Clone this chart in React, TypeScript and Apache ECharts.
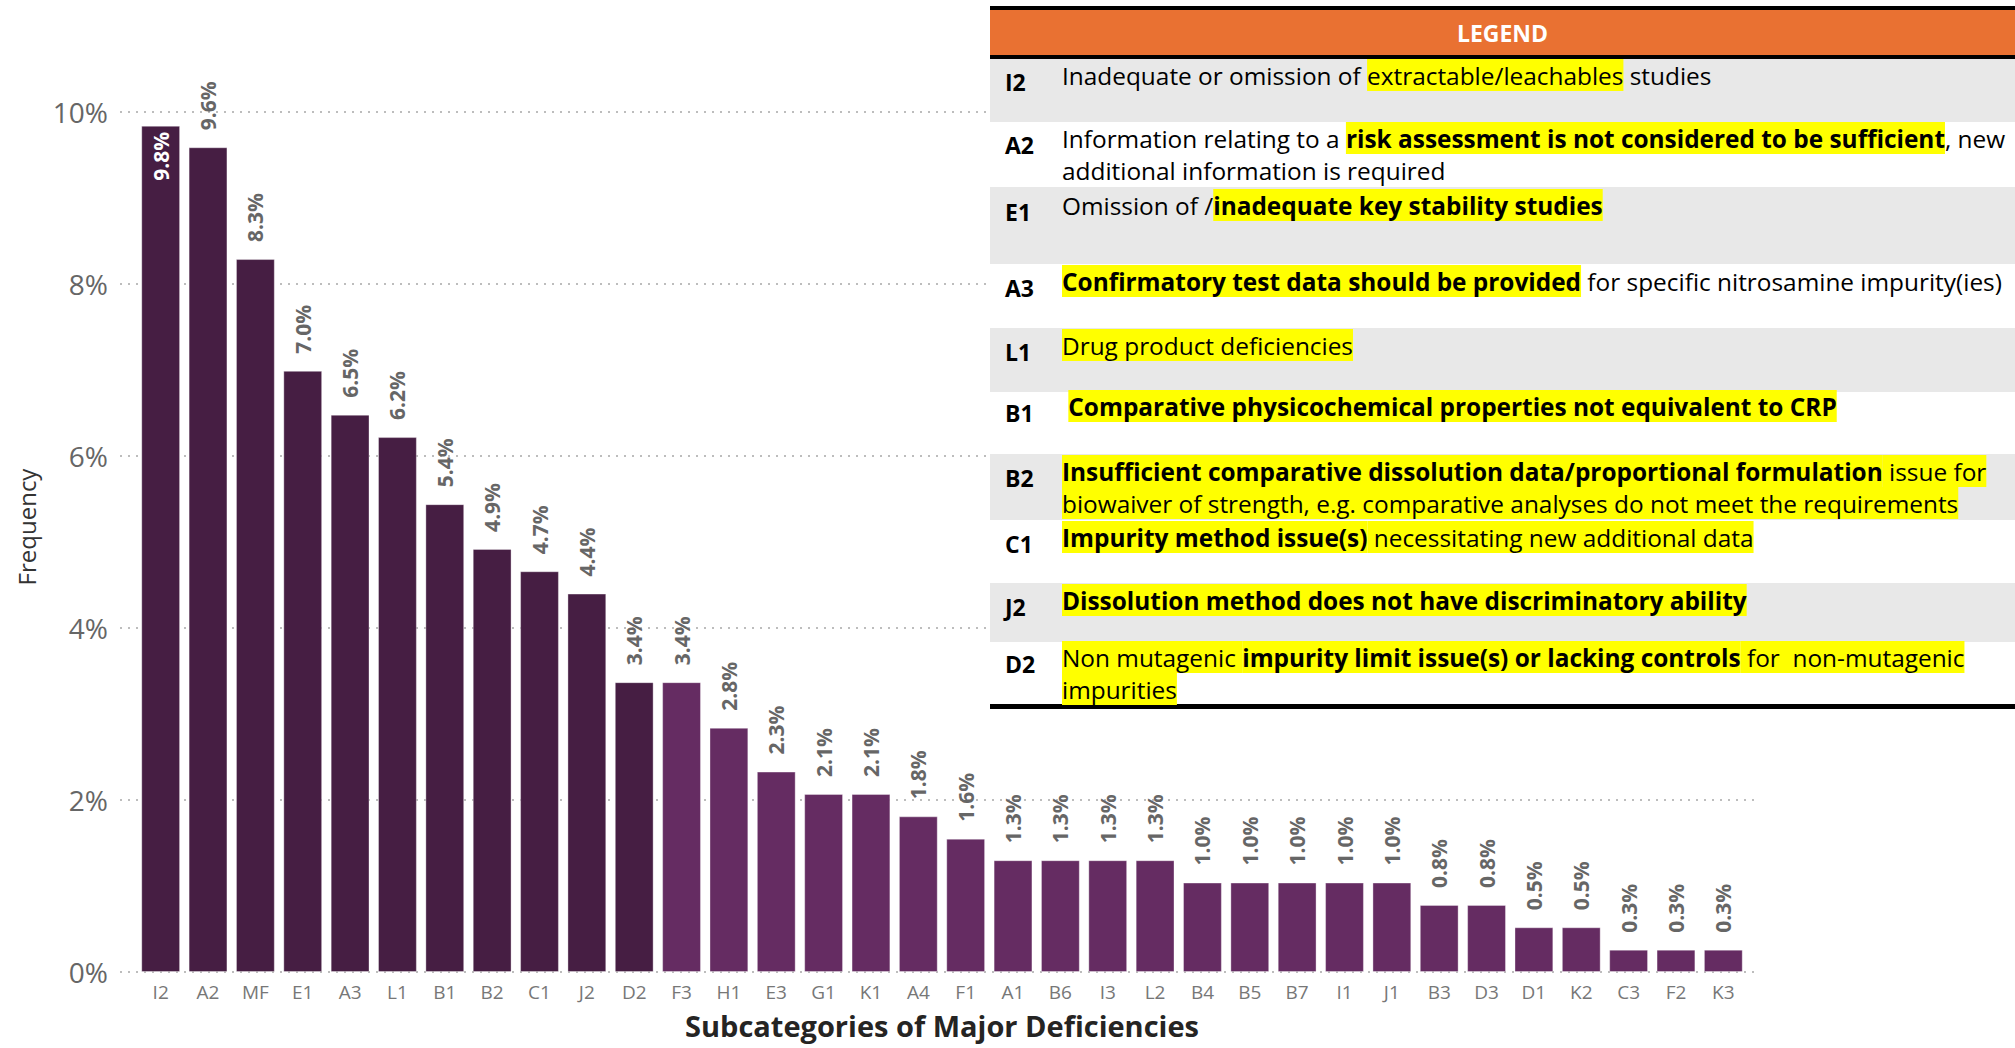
import React, { useEffect, useRef } from "react";
import * as echarts from "echarts";

// ---------- data ----------
const categories = [
  "I2", "A2", "MF", "E1", "A3", "L1", "B1", "B2", "C1", "J2", "D2",
  "F3", "H1", "E3", "G1", "K1", "A4", "F1", "A1", "B6", "I3", "L2",
  "B4", "B5", "B7", "I1", "J1", "B3", "D3", "D1", "K2", "C3", "F2", "K3",
];
const frequencies = [
  9.84, 9.59, 8.29, 6.99, 6.48, 6.22, 5.44, 4.92, 4.66, 4.40, 3.37,
  3.37, 2.84, 2.33, 2.07, 2.07, 1.81, 1.55, 1.30, 1.30, 1.30, 1.30,
  1.04, 1.04, 1.04, 1.04, 1.04, 0.78, 0.78, 0.52, 0.52, 0.26, 0.26, 0.26,
];
const darkGroupSize = 11;
const yMin = 0;
const yMax = 10;
const yStep = 2;
const yAxisTitle = "Frequency";
const xAxisTitle = "Subcategories of Major Deficiencies";
const legendTitle = "LEGEND";
const legendCodes = ["I2", "A2", "E1", "A3", "L1", "B1", "B2", "C1", "J2", "D2"];
const legendDescriptions = [
  "{n|Inadequate or omission of }{h|extractable/leachables}{n| studies}",
  "{n|Information relating to a }{hb|risk assessment is not considered to be sufficient}{n|, new}\n{n|additional information is required}",
  "{n|Omission of /}{hb|inadequate key stability studies}",
  "{hb|Confirmatory test data should be provided}{n| for specific nitrosamine impurity(ies)}",
  "{h|Drug product deficiencies}",
  "{n| }{hb|Comparative physicochemical properties not equivalent to CRP}",
  "{hb|Insufficient comparative dissolution data/proportional formulation}{h| issue for}\n{h|biowaiver of strength, e.g. comparative analyses do not meet the requirements}",
  "{hb|Impurity method issue(s)}{h| necessitating new additional data}",
  "{hb|Dissolution method does not have discriminatory ability}",
  "{h|Non mutagenic }{hb|impurity limit issue(s) or lacking controls}{h| for  non-mutagenic}\n{h|impurities}",
];

// ---------- style / layout ----------
const W = 2015;
const H = 1048;
const DARK = "#461E43";
const LIGHT = "#652C62";
const ORANGE = "#E97132";
const ROW_GRAY = "#E8E8E8";
const HIGHLIGHT = "#FFFF00";
const FONT = "'Open Sans', 'Noto Sans', Roboto, sans-serif";

const tableLeft = 990;
const rowEdges = [59, 122, 187, 264, 328, 392, 454, 520, 583, 642, 704];
const firstLineCenters = [75, 138, 205, 281, 345, 406, 471, 537, 600, 657];
const LINE_H = 32;
const LEG_FS = 24.4;
const INSIDE_LABEL_THRESHOLD = 9.7;

function buildGraphic() {
  const els: any[] = [];
  els.push({ type: "rect", z: 100, shape: { x: tableLeft, y: 6, width: W - tableLeft, height: 4 }, style: { fill: "#000" } });
  els.push({ type: "rect", z: 100, shape: { x: tableLeft, y: 10, width: W - tableLeft, height: 45 }, style: { fill: ORANGE } });
  els.push({ type: "rect", z: 100, shape: { x: tableLeft, y: 55, width: W - tableLeft, height: 4 }, style: { fill: "#000" } });
  els.push({
    type: "text", z: 102, x: (tableLeft + W) / 2, y: 33,
    style: { text: legendTitle, fontFamily: FONT, fontSize: 23, fontWeight: "bold", fill: "#fff", align: "center", verticalAlign: "middle" },
  });
  const base = { fontFamily: FONT, fontSize: LEG_FS, lineHeight: LINE_H, fill: "#000" };
  legendCodes.forEach((code, i) => {
    const top = rowEdges[i];
    const bottom = rowEdges[i + 1];
    els.push({
      type: "rect", z: 100,
      shape: { x: tableLeft, y: top, width: W - tableLeft, height: bottom - top },
      style: { fill: i % 2 === 0 ? ROW_GRAY : "#fff" },
    });
    els.push({
      type: "text", z: 102, x: 1005, y: firstLineCenters[i] + 7,
      style: { text: code, fontFamily: FONT, fontSize: 23, fontWeight: "bold", fill: "#000", align: "left", verticalAlign: "middle" },
    });
    els.push({
      type: "text", z: 102, x: 1062, y: firstLineCenters[i] - LINE_H / 2,
      style: {
        text: legendDescriptions[i],
        align: "left",
        verticalAlign: "top",
        ...base,
        rich: {
          n: { ...base },
          h: { ...base, backgroundColor: HIGHLIGHT, height: LINE_H },
          hb: { ...base, fontWeight: "bold", backgroundColor: HIGHLIGHT, height: LINE_H },
        },
      },
    });
  });
  els.push({ type: "rect", z: 100, shape: { x: tableLeft, y: 704, width: W - tableLeft, height: 5 }, style: { fill: "#000" } });
  els.push({
    type: "text", z: 50, x: 26, y: 527, rotation: Math.PI / 2,
    style: { text: yAxisTitle, fontFamily: FONT, fontSize: 24, fill: "#333", align: "center", verticalAlign: "middle" },
  });
  return els;
}

export default function App() {
  const ref = useRef<HTMLDivElement>(null);
  useEffect(() => {
    if (!ref.current) return;
    const chart = echarts.init(ref.current, null, { renderer: "svg" });
    const barData = frequencies.map((v, i) => {
      const item: any = {
        value: v,
        itemStyle: { color: i < darkGroupSize ? DARK : LIGHT },
      };
      if (v > INSIDE_LABEL_THRESHOLD) {
        item.label = { position: "insideTop", distance: 6, align: "right", color: "#fff" };
      }
      return item;
    });
    const option: any = {
      animation: false,
      backgroundColor: "#fff",
      grid: [
        { left: 120, right: W - 1756, top: 112, bottom: H - 972, outerBoundsMode: "none", containLabel: false },
        { left: 137, right: W - 1747, top: 112, bottom: H - 972, outerBoundsMode: "none", containLabel: false },
      ],
      xAxis: [
        { gridIndex: 0, type: "value", min: 0, max: 1, show: false },
        {
          gridIndex: 1,
          type: "category",
          data: categories,
          axisLine: { show: false },
          axisTick: { show: false },
          axisLabel: { fontFamily: FONT, fontSize: 19, color: "#777", margin: 10, interval: 0 },
          name: xAxisTitle,
          nameLocation: "middle",
          nameGap: 39,
          nameTextStyle: { fontFamily: FONT, fontSize: 29, fontWeight: "bold", color: "#252423" },
        },
      ],
      yAxis: [
        {
          gridIndex: 0,
          type: "value",
          min: yMin,
          max: yMax,
          interval: yStep,
          axisLine: { show: false },
          axisTick: { show: false },
          axisLabel: { formatter: "{value}%", fontFamily: FONT, fontSize: 28, color: "#666", margin: 12 },
          splitLine: { show: true, lineStyle: { type: [2, 6], color: "#bdbdbd", width: 2 } },
        },
        { gridIndex: 1, type: "value", min: yMin, max: yMax, interval: yStep, show: false, splitLine: { show: false } },
      ],
      series: [
        {
          type: "bar",
          xAxisIndex: 1,
          yAxisIndex: 1,
          data: barData,
          barCategoryGap: "18%",
          itemStyle: { borderColor: "rgba(255,255,255,0.35)", borderWidth: 1 },
          label: {
            show: true,
            position: "top",
            distance: 17,
            rotate: 90,
            align: "left",
            verticalAlign: "middle",
            formatter: (p: any) => Number(p.value).toFixed(1) + "%",
            fontFamily: FONT,
            fontWeight: "bold",
            fontSize: 21,
            color: "#666",
          },
        },
      ],
      graphic: buildGraphic(),
    };
    chart.setOption(option);
    return () => chart.dispose();
  }, []);
  return (
    <div
      ref={ref}
      style={{ position: "fixed", left: 0, top: 0, width: W, height: H, background: "#fff" }}
    />
  );
}
